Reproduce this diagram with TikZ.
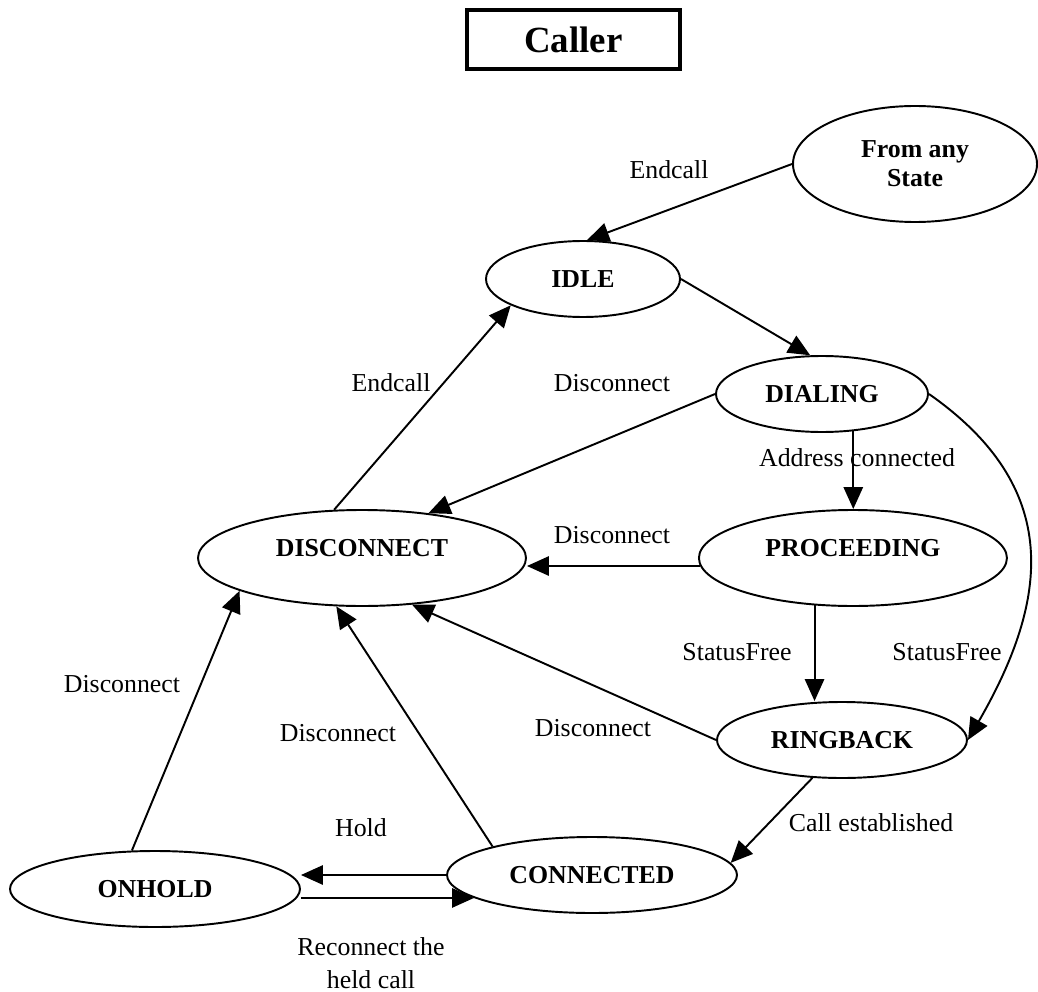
\documentclass[tikz,border=0pt]{standalone}
\usepackage{fontspec}
\setmainfont{Liberation Serif}
\usetikzlibrary{shapes.geometric,arrows.meta}
\usetikzlibrary{positioning}

\begin{document}
\begin{tikzpicture}[
  st/.style={ellipse,draw,line width=1.1pt,inner sep=0pt,align=center,font=\fontsize{14.7}{16.4}\selectfont\bfseries},
  lab/.style={inner sep=0pt,align=center,font=\fontsize{14.7}{18.7}\selectfont},
  tr/.style={line width=1.1pt,-{Triangle[length=12.5pt,width=11pt]}}]
\useasboundingbox (0,0) rectangle (20.76,-19.84);
%标题
\node[draw,line width=1.8pt,minimum width=4.26cm,minimum height=1.18cm,inner sep=0pt,font=\fontsize{21}{25}\selectfont\bfseries] (CALLER) at (11.47,-0.79) {Caller};

%状态
\node[st,minimum width=4.88cm,minimum height=2.32cm] (ANY) at (18.30,-3.28) {From any\\State};
\node[st,minimum width=3.88cm,minimum height=1.52cm] (IDLE) at (11.66,-5.58) {IDLE};
\node[st,minimum width=4.24cm,minimum height=1.52cm] (DIAL) at (16.44,-7.88) {DIALING};
\node[st,minimum width=6.56cm,minimum height=1.92cm,text depth=0.4cm] (DISC) at (7.24,-11.16) {DISCONNECT};
\node[st,minimum width=6.16cm,minimum height=1.92cm,text depth=0.4cm,right=3.42 of DISC] (PROC) {PROCEEDING};
\node[st,minimum width=5.00cm,minimum height=1.52cm] (RING) at (16.84,-14.80) {RINGBACK};
\node[st,minimum width=5.80cm,minimum height=1.52cm] (CONN) at (11.84,-17.50) {CONNECTED};
\node[st,minimum width=5.80cm,minimum height=1.52cm] (HOLD) at (3.10,-17.78) {ONHOLD};

%转移
\draw[tr] (ANY.west) -- (IDLE.84);
\draw[tr] (IDLE.east) -- (DIAL.107);
\draw[tr] (DISC.120) -- (IDLE.200);
\draw[tr] (DIAL.west) -- (DISC.34);
\draw[tr] (DIAL.-50) -- (DIAL.-50 |- PROC.north);
\draw[tr] (DIAL.east) to[out=-35,in=60,looseness=1.2] (RING.east);
\draw[tr] (PROC.183) -- (PROC.183 -| DISC.east);
\draw[tr] (PROC.-129) -- (PROC.-129 |- RING.north);
\draw[tr] (RING.west) -- (DISC.-43);
\draw[tr] (RING.-128) -- (CONN.5);
\draw[tr] (HOLD.121) -- (DISC.195);
\draw[tr] (CONN.164) -- (DISC.242);
\draw[tr] (CONN.west) -- (CONN.west -| HOLD.east);
\draw[tr] (CONN.191 -| HOLD.east) -- (CONN.191);

%标签
\node[lab] (E1) at (13.38,-3.40) {Endcall};
\node[lab] (E2) at (7.82,-7.66) {Endcall};
\node[lab] (D1) at (12.24,-7.66) {Disconnect};
\node[lab] (A1) at (17.14,-9.16) {Address connected};
\node[lab] (D2) at (12.24,-10.70) {Disconnect};
\node[lab] (S1) at (14.74,-13.04) {StatusFree};
\node[lab] (S2) at (18.94,-13.04) {StatusFree};
\node[lab] (D3) at (2.44,-13.68) {Disconnect};
\node[lab] (D4) at (6.76,-14.66) {Disconnect};
\node[lab] (D5) at (11.86,-14.56) {Disconnect};
\node[lab] (C1) at (17.42,-16.46) {Call established};
\node[lab] (H1) at (7.22,-16.56) {Hold};
\node[lab] (R1) at (7.42,-19.26) {Reconnect the\\held call};

\end{tikzpicture}
\end{document}
